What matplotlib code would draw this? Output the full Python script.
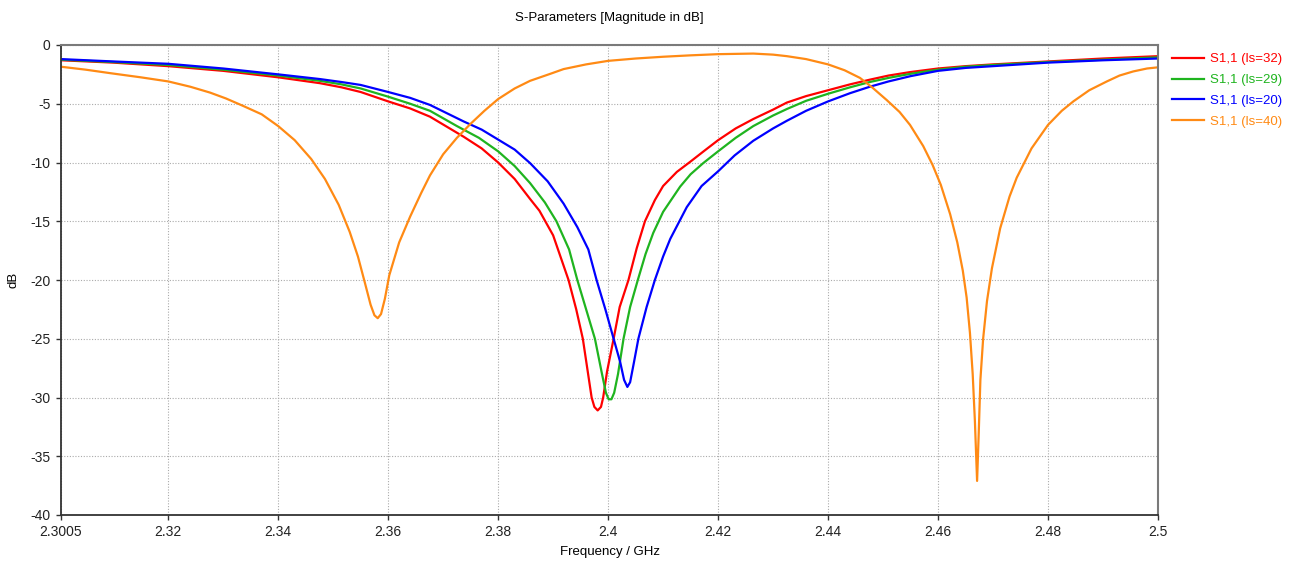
import matplotlib
matplotlib.use('Agg')
import matplotlib.pyplot as plt

plt.rcParams['font.family'] = ['Liberation Sans', 'DejaVu Sans']
plt.rcParams['axes.unicode_minus'] = False

# ---- data (frequency in GHz, S11 in dB) ----
f_32 = [2.3005, 2.31, 2.32, 2.33, 2.34, 2.3476, 2.3515, 2.355, 2.36, 2.364,
        2.3676, 2.3737, 2.377, 2.38, 2.383, 2.3858, 2.3875, 2.39, 2.3928,
        2.3942, 2.3954, 2.3962, 2.397, 2.3975, 2.3981, 2.3987, 2.3991, 2.3998,
        2.401, 2.4021, 2.4037, 2.4052, 2.4067, 2.4085, 2.41, 2.4125, 2.4149,
        2.4175, 2.42, 2.4232, 2.4264, 2.43, 2.4325, 2.436, 2.44, 2.444, 2.4476,
        2.451, 2.455, 2.46, 2.465, 2.47, 2.48, 2.49, 2.5]
s_32 = [-1.3, -1.5, -1.8, -2.2, -2.75, -3.25, -3.6, -4.0, -4.8, -5.4,
        -6.1, -7.8, -8.8, -10.0, -11.4, -13.1, -14.1, -16.2, -20.0,
        -22.5, -25.0, -27.5, -30.0, -30.8, -31.1, -30.8, -30.0, -27.8,
        -25.0, -22.3, -20.0, -17.3, -15.0, -13.2, -12.0, -10.8, -9.95,
        -9.0, -8.1, -7.1, -6.3, -5.5, -4.9, -4.35, -3.85, -3.35, -2.95,
        -2.6, -2.3, -2.0, -1.8, -1.65, -1.4, -1.15, -0.95]

f_29 = [2.3005, 2.31, 2.32, 2.33, 2.34, 2.3476, 2.3515, 2.355, 2.36, 2.364,
        2.3676, 2.3725, 2.3765, 2.38, 2.383, 2.3858, 2.3885, 2.3906, 2.3929,
        2.3944, 2.396, 2.3976, 2.3988, 2.3996, 2.4001, 2.4006, 2.4011, 2.4018,
        2.4028, 2.404, 2.4054, 2.4068, 2.4082, 2.41, 2.4131, 2.415, 2.4173,
        2.42, 2.4232, 2.4264, 2.43, 2.4325, 2.436, 2.44, 2.444, 2.4476, 2.451,
        2.455, 2.46, 2.465, 2.47, 2.48, 2.49, 2.5]
s_29 = [-1.25, -1.45, -1.7, -2.1, -2.6, -3.05, -3.35, -3.7, -4.4, -5.0,
        -5.6, -6.9, -7.9, -9.05, -10.3, -11.75, -13.4, -15.0, -17.4,
        -20.0, -22.5, -25.0, -27.8, -29.6, -30.15, -30.15, -29.6, -28.0,
        -25.0, -22.3, -20.0, -17.8, -16.0, -14.2, -12.05, -11.0, -10.05,
        -9.05, -7.9, -6.9, -6.0, -5.45, -4.75, -4.15, -3.6, -3.15, -2.8,
        -2.45, -2.1, -1.85, -1.7, -1.45, -1.25, -1.05]

f_20 = [2.3005, 2.31, 2.32, 2.33, 2.34, 2.3476, 2.3515, 2.355, 2.36, 2.364,
        2.3676, 2.3737, 2.377, 2.38, 2.383, 2.3858, 2.389, 2.3919, 2.3944,
        2.3964, 2.3979, 2.3995, 2.401, 2.4022, 2.4029, 2.4035, 2.404, 2.4047,
        2.4055, 2.407, 2.4085, 2.41, 2.4113, 2.4143, 2.417, 2.42, 2.423, 2.4264,
        2.43, 2.4325, 2.436, 2.44, 2.444, 2.4476, 2.451, 2.455, 2.46, 2.465,
        2.47, 2.48, 2.49, 2.5]
s_20 = [-1.2, -1.4, -1.6, -2.0, -2.5, -2.9, -3.15, -3.4, -4.0, -4.5,
        -5.1, -6.5, -7.2, -8.05, -8.9, -10.05, -11.6, -13.5, -15.5,
        -17.4, -20.0, -22.5, -25.0, -27.0, -28.5, -29.1, -28.7, -27.0,
        -25.0, -22.3, -20.0, -18.0, -16.5, -13.8, -12.0, -10.75, -9.4, -8.15,
        -7.1, -6.45, -5.6, -4.8, -4.1, -3.55, -3.1, -2.65, -2.2, -1.95,
        -1.8, -1.5, -1.3, -1.15]

f_40 = [2.3005, 2.305, 2.3095, 2.315, 2.32, 2.324, 2.3276, 2.3305, 2.3337,
        2.337, 2.34, 2.343, 2.346, 2.3485, 2.351, 2.353, 2.3545, 2.3558,
        2.3568, 2.3575, 2.3581, 2.3587, 2.3594, 2.3602, 2.362, 2.364, 2.366,
        2.3676, 2.37, 2.3725, 2.375, 2.3775, 2.38, 2.383, 2.3858, 2.3895,
        2.3919, 2.396, 2.40, 2.405, 2.41, 2.415, 2.42, 2.4264, 2.43, 2.4325,
        2.436, 2.44, 2.443, 2.4458, 2.448, 2.4507, 2.453, 2.4549, 2.4573,
        2.459, 2.4605, 2.4622, 2.4635, 2.4645, 2.4652, 2.4658, 2.4663, 2.4667,
        2.4671, 2.4674, 2.4677, 2.4682, 2.4689, 2.4698, 2.4713, 2.473, 2.4743,
        2.477, 2.48, 2.4825, 2.4846, 2.4875, 2.4907, 2.493, 2.4955, 2.498, 2.5]
s_40 = [-1.85, -2.1, -2.4, -2.75, -3.1, -3.55, -4.05, -4.55, -5.2,
        -5.9, -6.9, -8.1, -9.7, -11.4, -13.6, -15.9, -18.0, -20.3,
        -22.1, -23.0, -23.25, -22.9, -21.6, -19.6, -16.8, -14.6, -12.6,
        -11.1, -9.3, -7.9, -6.7, -5.6, -4.6, -3.7, -3.05, -2.45,
        -2.05, -1.65, -1.35, -1.15, -1.0, -0.88, -0.78, -0.73, -0.82, -0.95,
        -1.2, -1.65, -2.15, -2.8, -3.6, -4.7, -5.7, -6.8, -8.6,
        -10.2, -11.9, -14.4, -16.8, -19.2, -21.5, -24.5, -28.0, -32.0,
        -37.1, -33.0, -28.5, -25.0, -21.8, -19.0, -15.6, -12.9, -11.3,
        -8.8, -6.8, -5.6, -4.8, -3.85, -3.1, -2.6, -2.25, -2.0, -1.9]

labels = ['S1,1 (ls=32)', 'S1,1 (ls=29)', 'S1,1 (ls=20)', 'S1,1 (ls=40)']
colors = ['#ff0000', '#1fb41f', '#0000ff', '#ff8a14']
xticks = [2.3005, 2.32, 2.34, 2.36, 2.38, 2.4, 2.42, 2.44, 2.46, 2.48, 2.5]
xticklabels = ['2.3005', '2.32', '2.34', '2.36', '2.38', '2.4', '2.42', '2.44', '2.46', '2.48', '2.5']
yticks = [0, -5, -10, -15, -20, -25, -30, -35, -40]

#*******************************************************************************

fig = plt.figure(figsize=(13.08, 5.67), dpi=100)
ax = fig.add_axes([61/1308, 1 - 515/567, (1158-61)/1308, (515-45)/567])

for f, s, lab, c in zip([f_32, f_29, f_20, f_40], [s_32, s_29, s_20, s_40], labels, colors):
	ax.plot(f, s, color=c, lw=1.6, label=lab)

ax.set_xlim(2.3005, 2.5)
ax.set_ylim(-40, 0)
ax.set_xticks(xticks)
ax.set_xticklabels(xticklabels)
ax.set_yticks(yticks)
ax.tick_params(labelsize=10, direction='out', length=3.5, width=1, color='#333333',
		labelcolor='#222222', pad=4)
ax.grid(True, color='#aaaaaa', lw=0.8, linestyle=(0, (1, 1.5)))

for side in ['left', 'bottom']:
	ax.spines[side].set_color('#333333')
	ax.spines[side].set_linewidth(1.3)
for side in ['top', 'right']:
	ax.spines[side].set_color('#7a7a7a')
	ax.spines[side].set_linewidth(1.5)

ax.set_title('S-Parameters [Magnitude in dB]', fontsize=9.5, pad=17)
ax.set_xlabel('Frequency / GHz', fontsize=9.5, labelpad=5)
ax.set_ylabel('dB', fontsize=9.5, labelpad=8)

leg = ax.legend(loc='upper left', bbox_to_anchor=(1.006, 0.998), frameon=False,
		fontsize=9.5, handlelength=2.4, handletextpad=0.5, labelspacing=0.65,
		borderaxespad=0.15)
for txt, c in zip(leg.get_texts(), colors):
	txt.set_color(c)

plt.savefig('out.png', dpi=100)
plt.close()
